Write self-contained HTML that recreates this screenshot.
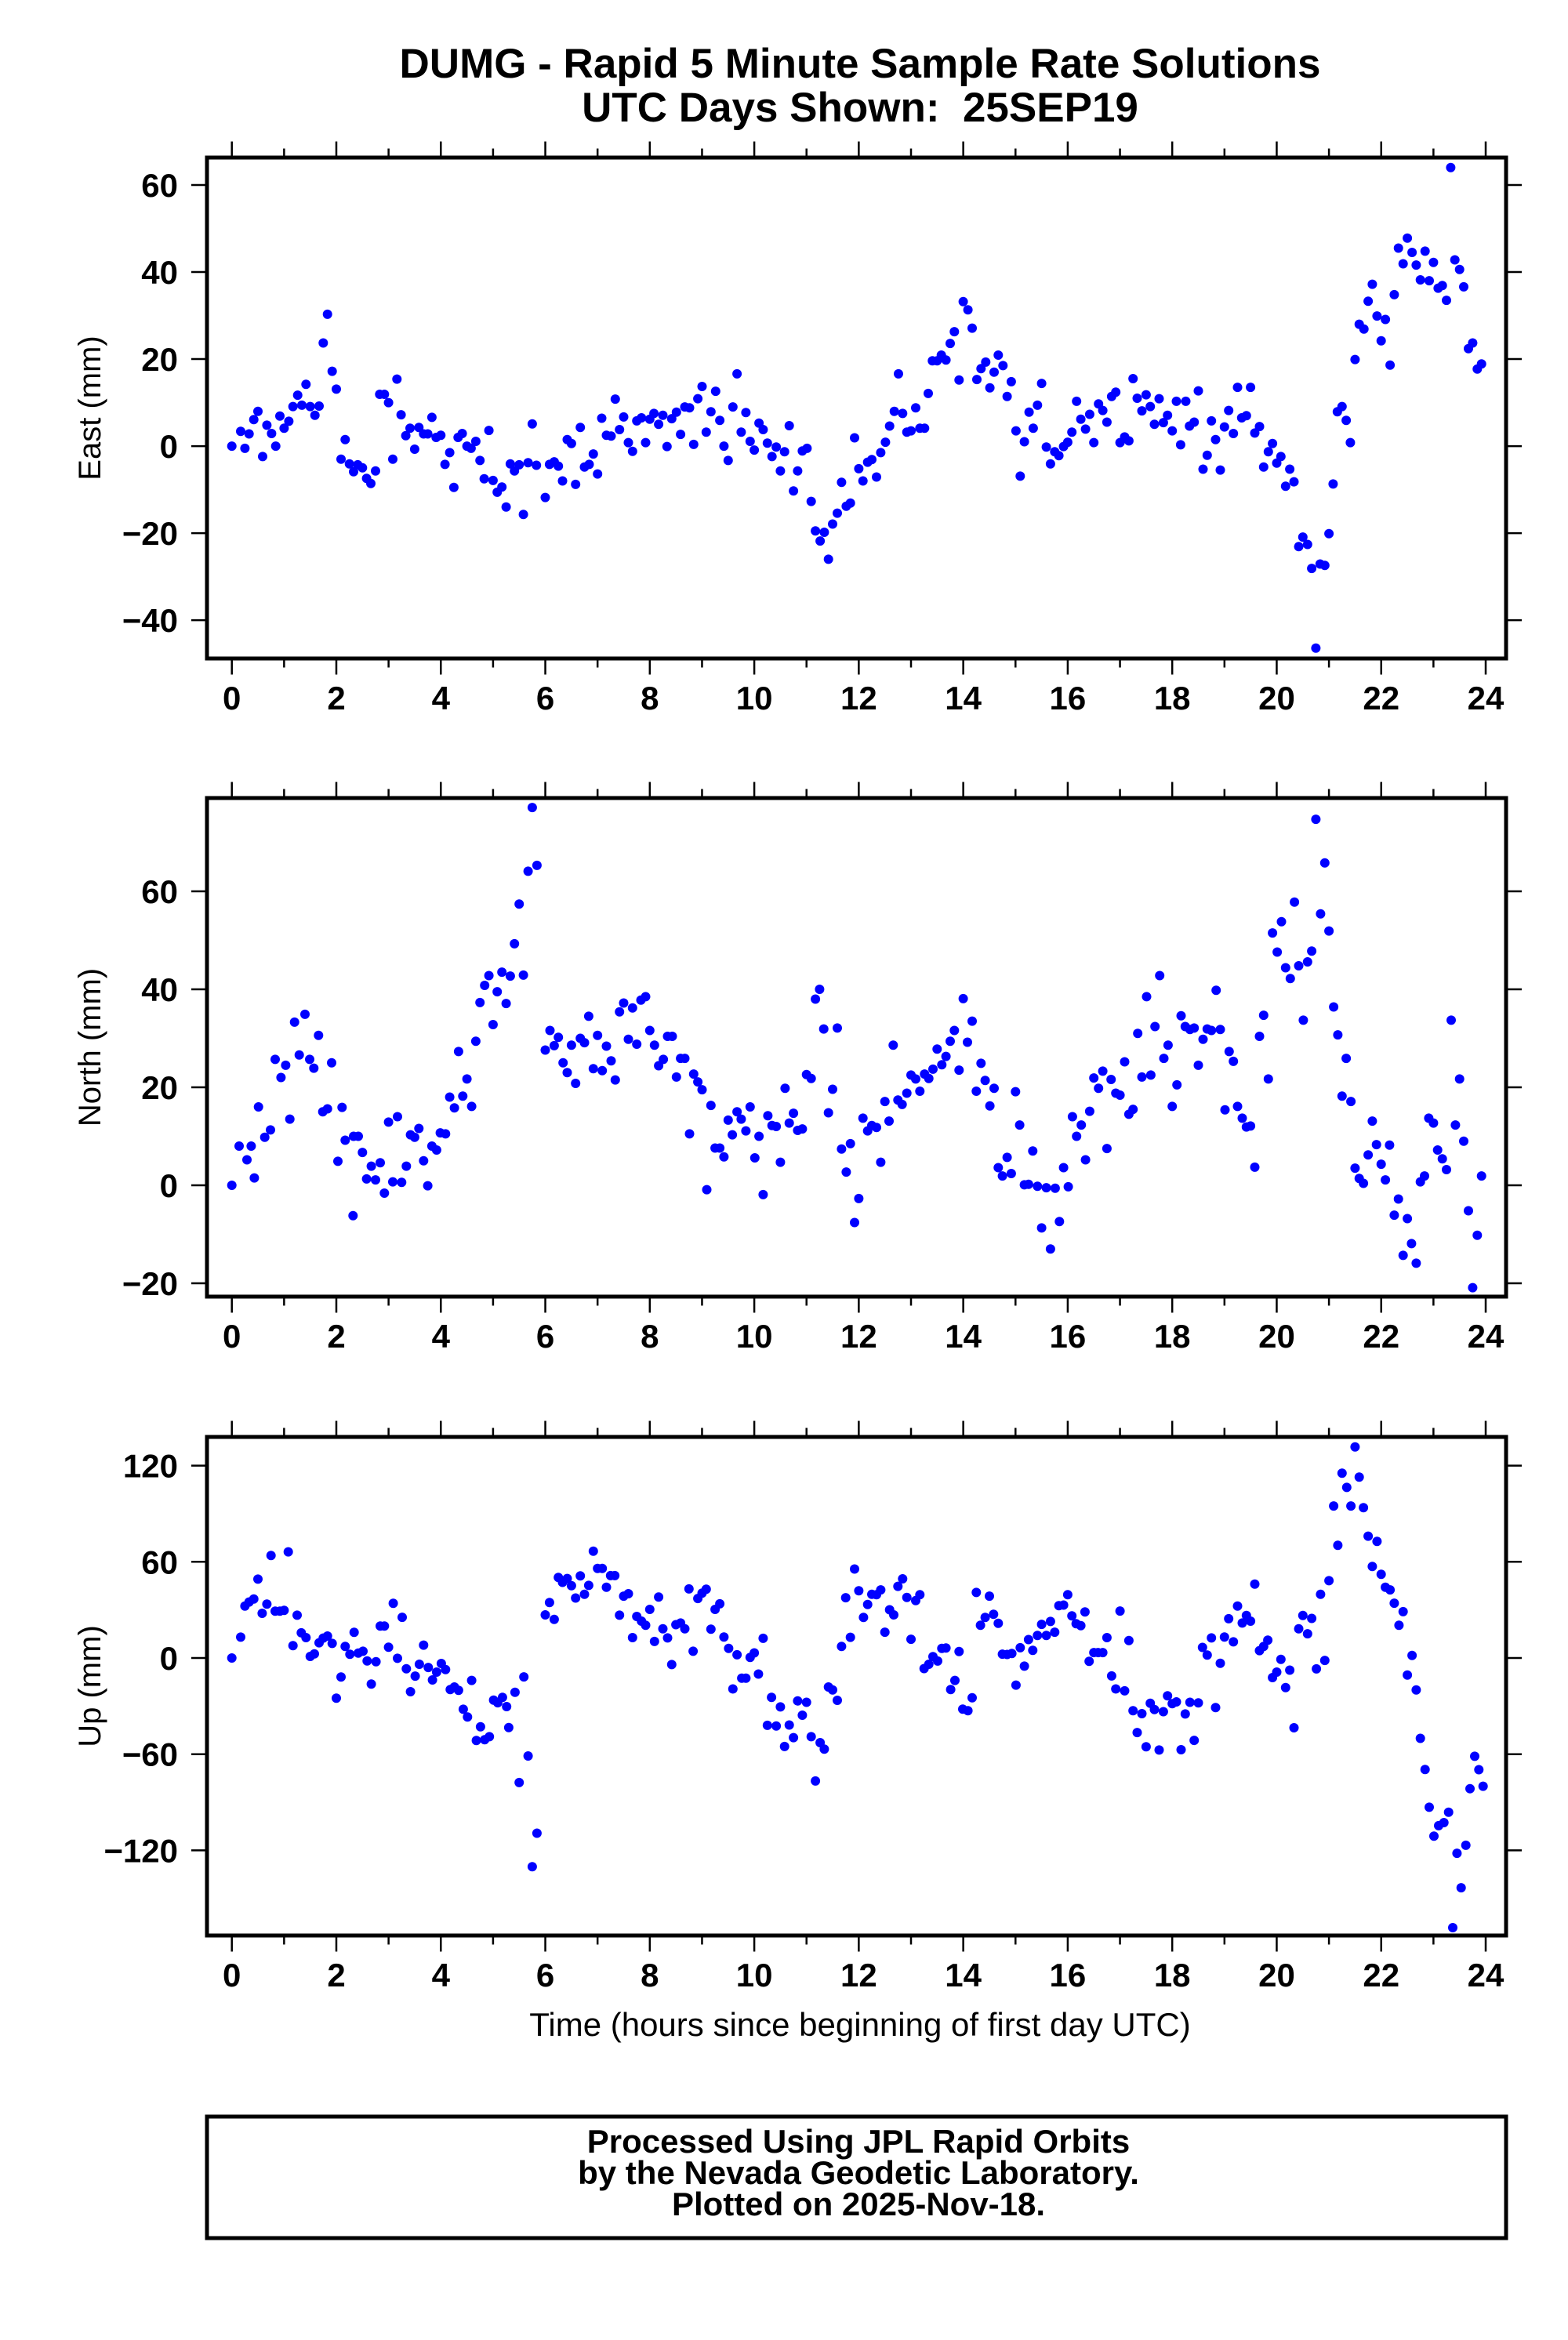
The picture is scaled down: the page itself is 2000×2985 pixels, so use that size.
<!DOCTYPE html>
<html><head><meta charset="utf-8">
<style>
html,body{margin:0;padding:0;background:#fff;}
svg{display:block;}
text{font-family:"Liberation Sans",Arial,sans-serif;fill:#000;}
</style></head>
<body>
<svg id="chart" width="2000" height="2985" viewBox="0 0 2000 2985" xmlns="http://www.w3.org/2000/svg">
<rect x="0" y="0" width="2000" height="2985" fill="#fff"/>
<text x="1097" y="99" font-size="53" font-weight="bold" text-anchor="middle">DUMG - Rapid 5 Minute Sample Rate Solutions</text>
<text x="1097" y="155" font-size="53" font-weight="bold" text-anchor="middle" xml:space="preserve" style="white-space:pre">UTC Days Shown:  25SEP19</text>
<g id="panels"></g>
<text x="1097" y="2597" font-size="42" text-anchor="middle">Time (hours since beginning of first day UTC)</text>
<rect x="264" y="2715" width="1657" height="155" fill="none" stroke="#000" stroke-width="5" transform="translate(0,-15)"/>
<text x="1095" y="2746" font-size="42" font-weight="bold" text-anchor="middle">Processed Using JPL Rapid Orbits</text>
<text x="1095" y="2786" font-size="42" font-weight="bold" text-anchor="middle">by the Nevada Geodetic Laboratory.</text>
<text x="1095" y="2826" font-size="42" font-weight="bold" text-anchor="middle">Plotted on 2025-Nov-18.</text>
</svg>
<script>
const xTickLabels = [0,2,4,6,8,10,12,14,16,18,20,22,24];
const eastTicks = [-40,-20,0,20,40,60];
const northTicks = [-20,0,20,40,60];
const upTicks = [-120,-60,0,60,120];

const eastT = [0,0.17,0.25,0.33,0.42,0.5,0.59,0.67,0.76,0.84,0.92,1.0,1.09,1.17,1.26,1.34,1.42,1.5,1.59,1.67,1.75,1.83,1.92,2.0,2.09,2.17,2.25,2.33,2.41,2.5,2.58,2.66,2.75,2.83,2.92,3.0,3.08,3.16,3.24,3.33,3.41,3.5,3.58,3.67,3.75,3.83,3.91,4.0,4.08,4.17,4.25,4.33,4.41,4.5,4.58,4.67,4.75,4.83,4.92,5.0,5.08,5.17,5.25,5.33,5.41,5.5,5.58,5.67,5.75,5.83,
6.0,6.08,6.17,6.25,6.33,6.42,6.5,6.58,6.67,6.75,6.84,6.92,7.0,7.08,7.17,7.26,7.34,7.42,7.5,7.59,7.67,7.75,7.84,7.92,8.0,8.08,8.17,8.25,8.33,8.42,8.51,8.59,8.67,8.76,8.84,8.92,9.0,9.08,9.17,9.26,9.34,9.42,9.5,9.59,9.67,9.75,9.84,9.92,10.0,10.09,10.17,10.25,10.34,10.42,10.5,10.58,10.67,10.75,10.83,10.92,11.01,11.09,11.17,11.26,11.34,11.42,11.5,11.59,11.67,11.76,11.84,11.92,12.0,12.08,12.17,12.25,12.34,12.42,12.51,12.59,12.68,12.76,12.84,12.92,13.0,13.09,13.17,13.26,13.33,13.41,13.5,13.58,13.67,13.75,13.83,13.92,14.0,14.09,14.17,14.26,14.34,14.43,14.51,14.59,14.67,14.76,14.84,14.92,15.01,15.09,15.17,15.26,15.34,15.42,15.5,
15.59,15.67,15.75,15.83,15.92,16.0,16.08,16.17,16.25,16.34,16.42,16.5,16.59,16.67,16.75,16.84,16.92,17.0,17.09,17.17,17.25,17.33,17.42,17.5,17.58,17.66,17.75,17.83,17.91,18.0,18.08,18.16,18.26,18.33,18.42,18.5,18.59,18.67,18.75,18.83,18.92,19.0,19.08,19.17,19.25,19.33,19.42,19.5,19.58,19.67,19.75,19.84,19.92,20.0,20.08,20.17,20.25,20.33,20.42,20.5,20.59,20.67,20.75,20.83,20.92,21.0,21.08,21.16,21.25,21.33,21.41,21.5,21.58,21.67,21.75,21.83,21.92,22.0,22.08,22.17,22.25,22.33,22.42,22.5,22.59,22.67,22.75,22.84,22.92,23.0,23.09,23.17,23.25,23.33,23.41,23.5,23.58,23.67,23.75,23.84,23.92];
const eastV = [0,3.4,-0.5,2.8,6.1,8,-2.4,4.8,2.9,0,6.9,4.1,5.7,9.1,11.7,9.4,14.2,9.1,7.1,9.2,23.7,30.3,17.2,13.1,-3,1.5,-4.1,-5.9,-4.3,-5,-7.4,-8.6,-5.7,11.9,11.9,10,-3,15.4,7.2,2.4,4.1,-0.7,4.3,2.8,2.8,6.6,2,2.5,-4.2,-1.5,-9.5,2,2.9,0,-0.5,1.1,-3.3,-7.5,3.6,-7.9,-10.6,-9.4,-14,-4.1,-5.7,-4.3,-15.7,-3.8,5.1,-4.4,
-11.8,-4.2,-3.6,-4.6,-8,1.5,0.6,-8.8,4.3,-4.8,-4.2,-1.8,-6.4,6.4,2.5,2.3,10.8,3.8,6.7,0.8,-1.2,5.8,6.5,0.8,6.2,7.5,5,7.1,-0.1,6.3,7.8,2.7,9,8.8,0.4,10.9,13.7,3.2,7.9,12.6,5.9,0,-3.3,9,16.6,3.2,7.7,1.1,-0.9,5.3,3.8,0.7,-2.4,-0.2,-5.7,-1.3,4.7,-10.3,-5.7,-1.1,-0.5,-12.7,-19.5,-21.8,-19.8,-26,-17.9,-15.4,-8.3,-13.8,-13.1,1.9,-5.2,-8,-3.7,-3.1,-7.1,-1.5,0.9,4.6,8,16.6,7.5,3.2,3.5,8.8,4.1,4.1,12.1,19.6,19.6,20.9,19.8,23.6,26.3,15.2,33.2,31.3,27.1,15.3,17.8,19.3,13.4,17,20.9,18.5,11.4,14.8,3.5,-6.9,1,7.8,4.1,9.4,14.4,
-0.2,-4.1,-1.3,-2.2,-0.1,0.9,3.2,10.3,6.2,3.9,7.3,0.8,9.7,8.2,5.5,11.4,12.4,0.8,2.1,1.2,15.5,11,8.1,11.8,9.1,5,10.9,5.4,7.1,3.5,10.3,0.3,10.3,4.6,5.5,12.7,-5.3,-2.1,5.8,1.5,-5.5,4.4,8.2,2.9,13.5,6.5,7,13.5,3,4.5,-4.8,-1.3,0.6,-3.9,-2.4,-9.2,-5.3,-8.2,-23.1,-20.9,-22.6,-28.1,-46.4,-27.1,-27.4,-20.1,-8.7,7.9,9.1,5.9,0.8,19.9,28,26.9,33.3,37.2,29.9,24.2,29.1,18.6,34.8,45.5,41.9,47.8,44.5,41.6,38.2,44.8,38,42.2,36.3,36.9,33.5,64,42.8,40.6,36.6,22.4,23.7,17.7,18.9];

const northT = [0,0.14,0.29,0.37,0.43,0.51,0.63,0.74,0.83,0.94,1.03,1.11,1.2,1.29,1.4,1.49,1.57,1.66,1.74,1.83,1.91,2.03,2.11,2.17,2.32,2.33,2.42,2.5,2.58,2.67,2.75,2.84,2.92,3.0,3.08,3.17,3.25,3.34,3.42,3.5,3.58,3.67,3.75,3.83,3.92,3.99,4.09,4.17,4.26,4.34,4.42,4.5,4.59,4.67,4.75,4.84,4.92,5.0,5.08,5.17,5.25,5.33,5.41,5.5,5.58,5.67,5.75,5.84,
6.0,6.09,6.17,6.25,6.34,6.42,6.5,6.58,6.67,6.75,6.83,6.92,7.0,7.09,7.17,7.26,7.34,7.42,7.5,7.59,7.67,7.75,7.83,7.92,8.0,8.09,8.17,8.26,8.34,8.43,8.51,8.59,8.67,8.76,8.84,8.92,9.0,9.09,9.17,9.25,9.34,9.42,9.5,9.58,9.67,9.75,9.84,9.92,10.01,10.09,10.17,10.26,10.34,10.42,10.5,10.59,10.67,10.75,10.83,10.92,11.0,11.09,11.17,11.25,11.33,11.42,11.5,11.59,11.67,11.76,11.84,11.92,12.0,12.08,
12.17,12.25,12.34,12.42,12.5,12.58,12.66,12.75,12.83,12.92,13.0,13.09,13.17,13.26,13.34,13.42,13.5,13.59,13.67,13.75,13.83,13.92,14.0,14.08,14.17,14.25,14.34,14.42,14.51,14.59,14.67,14.75,14.84,14.92,15.0,15.08,15.17,15.25,15.33,15.42,15.5,15.59,15.67,15.76,15.84,15.92,16.01,16.09,16.17,16.26,16.34,16.42,16.5,16.59,16.67,16.75,16.83,16.92,17.0,17.09,17.17,17.25,17.34,17.42,17.51,17.59,17.67,17.76,17.84,17.92,18.0,18.09,18.17,18.25,18.34,18.42,18.5,18.59,18.67,18.75,18.84,18.92,19.01,19.09,19.17,19.25,19.34,19.42,19.5,19.58,19.67,19.75,19.84,19.92,20.01,20.09,20.17,20.26,20.34,20.42,20.51,20.59,20.67,20.75,20.84,20.92,21.0,21.09,21.17,
21.25,21.33,21.42,21.5,21.58,21.66,21.75,21.83,21.91,22.0,22.08,22.16,22.25,22.33,22.42,22.5,22.58,22.67,22.75,22.83,22.91,23.0,23.08,23.17,23.25,23.34,23.42,23.5,23.58,23.67,23.75,23.84,23.92];
const northV = [0,8,5.2,8,1.5,16,9.8,11.3,25.7,22,24.5,13.5,33.3,26.6,34.9,25.7,23.9,30.6,15,15.6,25,4.9,15.9,9.2,-6.2,10,10,6.7,1.3,3.9,1.1,4.6,-1.6,12.9,0.7,14,0.6,3.9,10.3,9.8,11.6,5,-0.1,8,7.2,10.7,10.5,18,15.8,27.3,18.2,21.7,16.1,29.4,37.3,40.8,42.8,32.8,39.5,43.5,37.1,42.7,49.3,57.4,42.9,64.1,77.1,65.3,
27.6,31.6,28.5,30.2,25,23,28.6,20.8,30,29.1,34.5,23.8,30.6,23.4,28.4,25.4,21.5,35.4,37.2,29.8,36.2,28.8,37.8,38.5,31.6,28.6,24.4,25.7,30.4,30.4,22.1,25.9,25.9,10.5,22.7,21.1,19.5,-0.9,16.3,7.6,7.6,5.8,13.3,10.3,15,13.5,11.1,16,5.6,10,-1.9,14.2,12.2,12,4.7,19.8,12.7,14.7,11.2,11.5,22.6,21.8,38,40,31.9,14.8,19.6,32.1,7.4,2.7,8.5,-7.6,-2.7,13.7,
11.1,12.2,11.8,4.7,17.1,13.1,28.6,17.4,16.5,18.8,22.5,21.7,19.2,22.7,21.8,23.7,27.8,24.6,26.3,29.4,31.6,23.5,38.1,29.2,33.5,19.2,24.9,21.4,16.2,19.8,3.6,1.9,5.7,2.4,19.1,12.3,0.1,0.2,7,-0.2,-8.7,-0.5,-13,-0.6,-7.4,3.6,-0.3,14,10,12.3,5.2,15.1,21.9,19.8,23.3,7.5,21.6,18.8,18.4,25.2,14.5,15.5,31,22.1,38.5,22.5,32.4,42.8,25.9,28.6,16.1,20.5,34.6,32.4,31.8,32.1,24.5,29.8,31.9,31.6,39.8,31.8,15.4,27.3,25.3,16.1,13.7,11.9,12.1,3.7,30.4,34.7,21.7,51.5,47.6,53.8,44.4,42.2,57.8,44.8,33.7,45.6,47.8,74.7,55.4,65.8,51.9,36.4,30.7,
18.2,25.9,17.1,3.5,1.4,0.4,6.2,13.1,8.3,4.3,1.1,8.2,-6.1,-2.8,-14.3,-6.8,-11.9,-15.9,0.7,1.9,13.7,12.7,7.2,5.4,3.2,33.7,12.3,21.7,9,-5.2,-20.9,-10.2,1.9];

const upT = [0,0.17,0.25,0.33,0.42,0.5,0.58,0.67,0.75,0.83,0.92,1.0,1.08,1.17,1.25,1.33,1.42,1.5,1.58,1.67,1.75,1.83,1.92,2.0,2.09,2.17,2.26,2.34,2.42,2.51,2.59,2.67,2.76,2.84,2.92,3.0,3.09,3.17,3.26,3.34,3.42,3.51,3.59,3.67,3.76,3.84,3.92,4.01,4.09,4.18,4.26,4.34,4.43,4.51,4.59,4.68,4.76,4.84,4.93,5.01,5.09,5.18,5.26,5.3,5.42,5.5,5.59,5.67,5.75,5.84,
6.0,6.08,6.17,6.25,6.33,6.42,6.5,6.58,6.67,6.75,6.83,6.92,7.0,7.09,7.17,7.25,7.33,7.42,7.5,7.59,7.67,7.75,7.84,7.92,8.0,8.09,8.17,8.25,8.34,8.42,8.5,8.59,8.67,8.75,8.83,8.92,9.0,9.08,9.17,9.25,9.34,9.42,9.51,9.59,9.67,9.76,9.84,9.92,10.0,10.08,10.17,10.25,10.33,10.42,10.5,10.58,10.67,10.75,10.83,10.92,11.0,11.09,11.17,11.26,11.34,11.42,11.5,11.59,11.67,11.75,11.84,11.92,12.0,12.09,12.17,12.25,12.34,12.42,12.5,12.59,12.67,12.75,12.84,12.92,13.0,13.09,13.17,13.25,13.34,13.42,13.51,13.59,13.67,13.76,13.84,13.92,13.99,
14.09,14.17,14.25,14.33,14.42,14.5,14.58,14.67,14.75,14.84,14.93,15.01,15.09,15.17,15.25,15.33,15.42,15.5,15.59,15.67,15.75,15.83,15.92,16.0,16.08,16.16,16.25,16.33,16.41,16.5,16.58,16.67,16.75,16.84,16.92,17.0,17.09,17.17,17.25,17.33,17.42,17.5,17.58,17.66,17.75,17.83,17.91,18.0,18.08,18.17,18.25,18.34,18.42,18.5,18.58,18.67,18.75,18.83,18.92,19.0,19.08,19.17,19.25,19.34,19.42,19.5,19.58,19.67,19.75,19.83,19.92,20.0,20.08,20.17,20.25,20.33,20.42,20.5,20.59,20.67,20.76,20.84,20.92,21.0,21.09,21.17,21.25,21.34,21.42,21.5,21.58,21.66,21.75,21.83,21.92,22.0,22.08,22.17,22.25,22.34,22.42,22.5,22.59,22.67,22.75,22.84,22.92,23.01,23.1,23.2,23.29,23.37,23.45,23.53,23.62,23.7,23.79,23.87,23.95];
const upV = [0,13,32.4,34.9,36.8,49.2,27.9,33.6,63.9,29.2,29.2,29.7,66.2,7.7,26.7,15.7,12.7,1,2.6,9.5,12.4,13.7,9.1,-25.1,-11.9,7.2,2.3,16,3.1,4.2,-1.8,-16.3,-2.3,19.9,19.9,6.7,34.1,-0.2,25.4,-6.7,-21,-11.3,-3.9,8,-5.9,-13.7,-8.8,-3.4,-7.2,-19.7,-18.1,-20.2,-32,-36.8,-14,-51.5,-42.9,-51,-49.1,-26.3,-27.9,-24.6,-30.3,-43.4,-21.4,-77.7,-11.8,-61.1,-130.2,-109.3,
26.9,34.6,24.1,50.2,47.2,49.6,45.1,37.4,51.2,39.7,45.3,66.6,55.9,55.9,44.1,51.4,51.4,26.7,38.6,40.1,12.7,25.9,23,20.4,30.3,10.3,38,18.2,12.5,-4.1,20.8,21.8,18.2,43.1,4.2,37.1,40.5,42.9,18,30.3,33.8,13.1,6,-19.3,2,-12.6,-12.6,0.4,3.2,-10,12.3,-42,-24.6,-42.4,-30.5,-55.2,-41.8,-49.7,-26.8,-35.7,-27.6,-49.1,-76.7,-52.8,-56.8,-18.1,-19.9,-26.4,7.2,37.6,12.9,55.5,41.9,25.3,33.4,39.7,39.5,42.5,16.1,30.1,26.9,44.7,49.4,37.8,11.7,35.8,39.5,-6.6,-3.9,0.9,-1.9,6,6.2,-19.7,-14,4,-31.9,
-32.9,-24.8,40.9,20.4,25.3,38.6,27.3,21.6,2.4,2.2,2.8,-16.9,6.4,-5.1,11.5,4.8,14.1,21,14.1,22.8,16.1,32.6,33,39.5,26.3,21.4,20.2,28.7,-2.1,3.4,3.4,3.4,12.7,-11.2,-19.3,29.3,-20.5,10.9,-32.9,-46.5,-34.7,-55.4,-28.2,-32.1,-57.4,-33.5,-23.6,-28.5,-27.4,-57.2,-34.9,-27.6,-51.4,-28,6.6,1.8,12.5,-30.9,-3.3,13.1,24.5,10.1,32.4,21.8,26.5,23,46.1,4.6,7.2,11.1,-12.2,-8.8,-0.9,-18.5,-7.6,-43.5,18.2,26.5,15.1,24.7,-6.8,39.7,-1.5,48.2,94.8,70.3,115.3,106.4,94.8,131.7,112.8,93.8,76,57.1,72.7,52.2,44.1,42.5,34.2,20.4,28.9,-10.6,1.6,-19.9,-50.1,-69.6,-93.1,-111.1,-104.6,-102.7,-96.2,-168.2,-121.8,-143.3,-116.8,-81.5,-61.3,-69.7,-80];

const NS = 'http://www.w3.org/2000/svg';
const FRAME_L = 264, FRAME_R = 1921;
const X_MIN = -0.476, X_MAX = 24.39;
function xScale(h){ return FRAME_L + (h - X_MIN) / (X_MAX - X_MIN) * (FRAME_R - FRAME_L); }

const panels = [
  {key:'east', title:'East (mm)', top:201, bottom:840, yMin:-48.8, yMax:66.3, ticks:eastTicks, t:eastT, v:eastV},
  {key:'north', title:'North (mm)', top:1018, bottom:1654, yMin:-22.72, yMax:79.04, ticks:northTicks, t:northT, v:northV},
  {key:'up', title:'Up (mm)', top:1833, bottom:2469, yMin:-173.1, yMax:137.9, ticks:upTicks, t:upT, v:upV}
];

function mk(tag, attrs){
  const e = document.createElementNS(NS, tag);
  for (const k in attrs) e.setAttribute(k, attrs[k]);
  return e;
}

const root = document.getElementById('panels');
panels.forEach(p => {
  const yScale = val => p.bottom - (val - p.yMin) / (p.yMax - p.yMin) * (p.bottom - p.top);
  const g = mk('g', {});
  
  
  root.appendChild(g);

  const pts = mk('g', {fill:'#0000ff'});
  
  
  g.appendChild(pts);
  for (let i = 0; i < p.t.length && i < p.v.length; i++) {
    const c = mk('circle', {cx: xScale(p.t[i]).toFixed(1), cy: yScale(p.v[i]).toFixed(1), r: 6});
    
    
    pts.appendChild(c);
  }

  const fr = mk('rect', {x:FRAME_L, y:p.top, width:FRAME_R-FRAME_L, height:p.bottom-p.top, fill:'none', stroke:'#000', 'stroke-width':5});
  
  
  g.appendChild(fr);

  const xt = mk('g', {stroke:'#000', 'stroke-width':2.5});
  
  
  g.appendChild(xt);
  for (let h = 0; h <= 24; h++) {
    const x = xScale(h);
    const len = (h % 2 === 0) ? 18 : 9;
    xt.appendChild(mk('line', {x1:x, x2:x, y1:p.top-2.5, y2:p.top-2.5-len}));
    xt.appendChild(mk('line', {x1:x, x2:x, y1:p.bottom+2.5, y2:p.bottom+2.5+len}));
  }
  xTickLabels.forEach(h => {
    const tx = mk('text', {x:xScale(h), y:p.bottom+65, 'font-size':42, 'font-weight':'bold', 'text-anchor':'middle'});
    tx.textContent = h;
    
    
    g.appendChild(tx);
  });

  const yt = mk('g', {stroke:'#000', 'stroke-width':2.5});
  
  
  g.appendChild(yt);
  p.ticks.forEach(v => {
    const y = yScale(v);
    yt.appendChild(mk('line', {x1:FRAME_L-2.5, x2:FRAME_L-20, y1:y, y2:y}));
    yt.appendChild(mk('line', {x1:FRAME_R+2.5, x2:FRAME_R+20, y1:y, y2:y}));
    const tx = mk('text', {x:227, y:y+15, 'font-size':42, 'font-weight':'bold', 'text-anchor':'end'});
    tx.textContent = v < 0 ? '\u2212' + Math.abs(v) : String(v);
    
    
    g.appendChild(tx);
  });

  const cy = (p.top + p.bottom) / 2;
  const yl = mk('text', {x:0, y:0, 'font-size':40, 'text-anchor':'middle', transform:'translate(128,' + cy + ') rotate(-90)'});
  yl.textContent = p.title;
  
  
  g.appendChild(yl);
});
</script>
</body></html>
